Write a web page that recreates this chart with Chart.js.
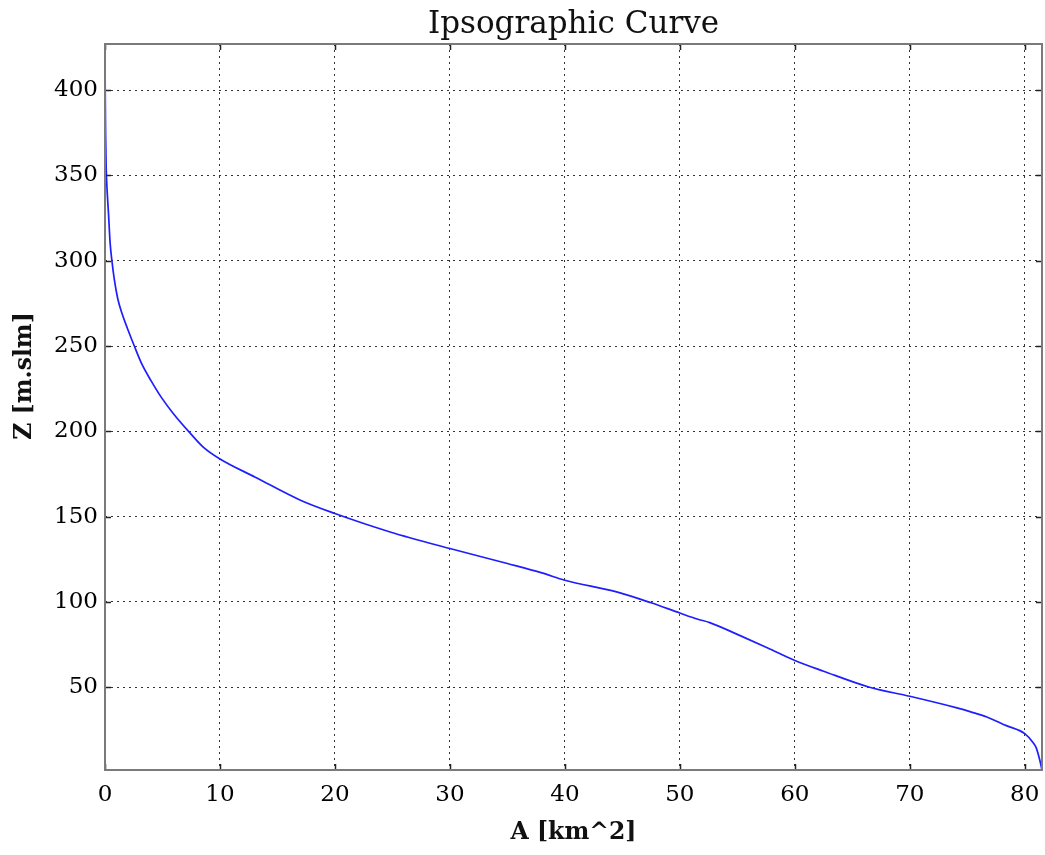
<!DOCTYPE html>
<html>
<head>
<meta charset="utf-8">
<script src="https://cdn.jsdelivr.net/npm/chart.js@4.4.0/dist/chart.umd.min.js"></script>
<style>
html,body{margin:0;padding:0;background:#fff;}
#wrap{width:1045px;height:855px;position:relative;}
</style>
</head>
<body>
<div id="wrap"><canvas id="c" width="1045" height="855"></canvas></div>
<script>
// ---- data ----
const areaKm2 = [0, 0.02, 0.05, 0.1, 0.17, 0.3, 0.45, 0.6, 0.81, 1.1, 1.48, 1.97, 2.55, 3.2, 4.0, 4.9, 5.97, 7.27, 8.57, 10, 13.07, 17, 20, 24.8, 30, 35, 38, 40, 44.5, 47.5, 50, 51.5, 52.6, 55, 57.6, 60, 62.5, 66.5, 70, 74.1, 75.3, 76.7, 78.4, 80, 80.75, 81.0, 81.3, 81.5];
const elevation = [427, 400, 375, 355, 343, 328, 310, 300, 289, 278, 269, 260, 250, 239.5, 229.7, 219.9, 210.2, 200, 190.6, 183.8, 173.1, 159.6, 151.8, 141, 131.3, 122.5, 117, 112.7, 105.9, 99.5, 93.5, 90, 87.9, 81, 73.2, 65.7, 59.4, 50, 44.7, 37.9, 35.6, 32.6, 27.5, 22.8, 17.3, 14.5, 7.5, 1.5];
const xTicks = [0, 10, 20, 30, 40, 50, 60, 70, 80];
const yTicks = [50, 100, 150, 200, 250, 300, 350, 400];
const xRange = [0, 81.5];
const yRange = [1.5, 427];
const chartTitle = 'Ipsographic Curve';
const xTitle = 'A [km^2]';
const yTitle = 'Z [m.slm]';

const SERIF = '"DejaVu Serif", "Liberation Serif", serif';

const points = areaKm2.map((a, i) => ({x: a, y: elevation[i]}));

const framePlugin = {
  id: 'frame',
  afterDraw(chart) {
    const {ctx, chartArea: a, scales: {x, y}} = chart;
    ctx.save();
    // inward ticks on all four sides
    ctx.strokeStyle = '#222';
    ctx.lineWidth = 1.5;
    ctx.beginPath();
    xTicks.forEach(v => {
      const px = Math.round(x.getPixelForValue(v)) + 0.5;
      ctx.moveTo(px, a.bottom); ctx.lineTo(px, a.bottom - 6);
      ctx.moveTo(px, a.top); ctx.lineTo(px, a.top + 6);
    });
    yTicks.forEach(v => {
      const py = Math.round(y.getPixelForValue(v)) + 0.5;
      ctx.moveTo(a.left, py); ctx.lineTo(a.left + 6, py);
      ctx.moveTo(a.right, py); ctx.lineTo(a.right - 6, py);
    });
    ctx.stroke();
    // frame
    ctx.strokeStyle = '#7a7a7a';
    ctx.lineWidth = 2;
    ctx.strokeRect(a.left, a.top, a.right - a.left, a.bottom - a.top);
    // y axis title
    ctx.translate(25, 376);
    ctx.rotate(-Math.PI / 2);
    ctx.font = 'bold 23.5px ' + SERIF;
    ctx.fillStyle = '#111';
    ctx.textAlign = 'center';
    ctx.textBaseline = 'middle';
    ctx.fillText(yTitle, 0, 0);
    ctx.restore();
  }
};

new Chart(document.getElementById('c'), {
  type: 'scatter',
  data: {
    datasets: [{
      data: points,
      showLine: true,
      borderColor: 'rgb(30,30,255)',
      backgroundColor: 'rgb(30,30,255)',
      borderWidth: 1.7,
      pointRadius: 0,
      pointHoverRadius: 0,
      cubicInterpolationMode: 'monotone'
    }]
  },
  options: {
    responsive: false,
    animation: false,
    events: [],
    layout: {padding: {left: 0, right: 3, top: 0, bottom: 0}},
    plugins: {
      legend: {display: false},
      tooltip: {enabled: false},
      title: {
        display: true,
        text: chartTitle,
        fullSize: false,
        color: '#111',
        font: {family: SERIF, size: 31, weight: 'normal', lineHeight: 1.2},
        padding: {top: 6.4, bottom: 0.4}
      }
    },
    scales: {
      x: {
        type: 'linear',
        min: xRange[0],
        max: xRange[1],
        afterBuildTicks: s => { s.ticks = xTicks.map(v => ({value: v})); },
        afterFit: s => { s.height = 85; s.paddingLeft = 0; s.paddingRight = 0; },
        grid: {color: '#333', lineWidth: 1, drawTicks: false, tickLength: 0},
        border: {display: false, dash: [2, 4]},
        ticks: {
          color: '#000',
          padding: 11,
          maxRotation: 0,
          autoSkip: false,
          font: {family: SERIF, size: 23}
        },
        title: {
          display: true,
          text: xTitle,
          color: '#111',
          font: {family: SERIF, size: 23.5, weight: 'bold', lineHeight: 1.2},
          padding: {top: 0, bottom: 8}
        }
      },
      y: {
        type: 'linear',
        min: yRange[0],
        max: yRange[1],
        afterBuildTicks: s => { s.ticks = yTicks.map(v => ({value: v})); },
        afterFit: s => { s.width = 105; s.paddingTop = 0; s.paddingBottom = 0; },
        grid: {color: '#333', lineWidth: 1, drawTicks: false, tickLength: 0},
        border: {display: false, dash: [2, 4]},
        ticks: {
          color: '#000',
          padding: 7,
          autoSkip: false,
          font: {family: SERIF, size: 23}
        }
      }
    }
  },
  plugins: [framePlugin]
});
</script>
</body>
</html>
